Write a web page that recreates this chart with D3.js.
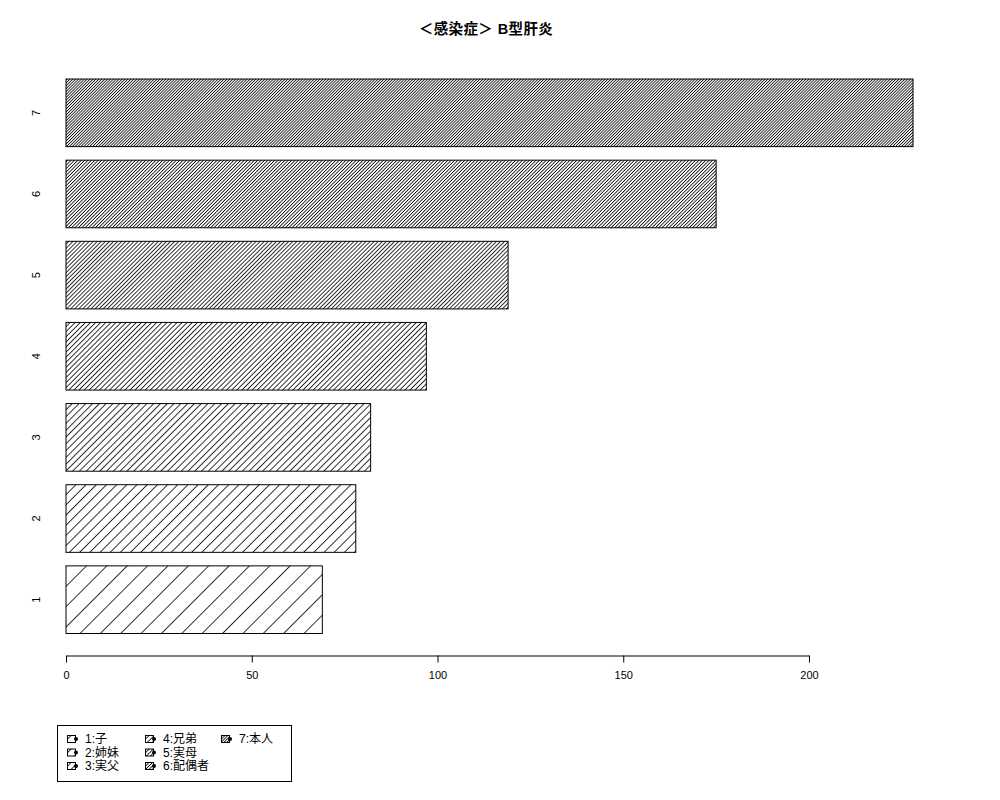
<!DOCTYPE html>
<html>
<head>
<meta charset="utf-8">
<script src="https://cdn.jsdelivr.net/npm/d3@7"></script>
<style>
  body { margin: 0; background: #fff; }
  text { font-family: "Liberation Sans", "Noto Sans CJK JP", sans-serif; }
</style>
</head>
<body>
<div id="chart"></div>
<script>
// data
const categories = ['1', '2', '3', '4', '5', '6', '7'];
const counts = [69, 78, 82, 97, 119, 175, 228];
const densities = [5, 10, 15, 20, 25, 30, 35];   // hatch lines per inch
const legendLabels = ['1:子', '2:姉妹', '3:実父', '4:兄弟', '5:実母', '6:配偶者', '7:本人'];
const xTicks = [0, 50, 100, 150, 200];
const title = '＜感染症＞ B型肝炎';

const width = 1000, height = 800;

const svg = d3.select('#chart')
  .append('svg')
    .attr('width', width)
    .attr('height', height);

// hatch patterns, one per density
const defs = svg.append('defs');
densities.forEach((dens, i) => {
  const gap = 72 / dens;
  const p = defs.append('pattern')
      .attr('id', 'hatch' + i)
      .attr('patternUnits', 'userSpaceOnUse')
      .attr('width', gap)
      .attr('height', gap)
      .attr('patternTransform', 'rotate(45)');
  p.append('line')
      .attr('x1', 0).attr('y1', -1)
      .attr('x2', 0).attr('y2', gap + 1)
      .attr('stroke', '#000')
      .attr('stroke-width', 1.6);
});

const x = d3.scaleLinear()
    .domain([0, 200])
    .range([66, 809]);

const y = d3.scaleBand()
    .domain(categories.slice().reverse())
    .range([72.25, 640.25])
    .paddingInner(1 / 6)
    .paddingOuter(1 / 12);

const data = categories.map((c, i) => ({cat: c, value: counts[i], idx: i}));

// bars: hatch + outline
svg.append('g')
  .selectAll('rect')
  .data(data)
  .join('rect')
    .attr('x', x(0))
    .attr('y', d => y(d.cat))
    .attr('width', d => x(d.value) - x(0))
    .attr('height', y.bandwidth())
    .attr('fill', d => `url(#hatch${d.idx})`)
    .attr('stroke', '#000')
    .attr('stroke-width', 1);

// y labels, rotated
svg.append('g')
  .selectAll('text')
  .data(data)
  .join('text')
    .attr('transform', d => `translate(36, ${y(d.cat) + y.bandwidth() / 2}) rotate(-90)`)
    .attr('text-anchor', 'middle')
    .attr('dy', '0.35em')
    .attr('font-size', 11)
    .text(d => d.cat);

// x axis
const xAxis = svg.append('g')
    .attr('transform', 'translate(0, 655.5)')
    .call(d3.axisBottom(x)
      .tickValues(xTicks)
      .tickSize(7)
      .tickSizeOuter(0)
      .tickPadding(9));
xAxis.selectAll('text')
    .attr('font-size', 11)
    .attr('font-family', '"Liberation Sans", sans-serif');
xAxis.selectAll('path, line').attr('stroke', '#000');

// title
svg.append('text')
    .attr('x', 486)
    .attr('y', 34)
    .attr('text-anchor', 'middle')
    .attr('font-size', 14.5)
    .attr('font-weight', 'bold')
    .attr('letter-spacing', 0.4)
    .text(title);

// Legend
svg.append('rect')
    .attr('x', 57.5)
    .attr('y', 725.5)
    .attr('width', 234)
    .attr('height', 56)
    .attr('fill', 'none')
    .attr('stroke', '#000');

const colX = [67, 145, 221];
const rowY = [739, 752.5, 766];

const leg = svg.append('g')
  .selectAll('g')
  .data(legendLabels)
  .join('g')
    .attr('transform', (d, i) => `translate(${colX[Math.floor(i / 3)]}, ${rowY[i % 3]})`);

leg.append('rect')
    .attr('x', 0.5)
    .attr('y', -3.5)
    .attr('width', 8)
    .attr('height', 7)
    .attr('fill', (d, i) => `url(#hatch${i})`)
    .attr('stroke', '#000');

leg.append('circle')
    .attr('cx', 9)
    .attr('cy', 0)
    .attr('r', 2)
    .attr('fill', '#000');

leg.append('text')
    .attr('x', 18)
    .attr('dy', '0.35em')
    .attr('font-size', 12)
    .text(d => d);
</script>
</body>
</html>
